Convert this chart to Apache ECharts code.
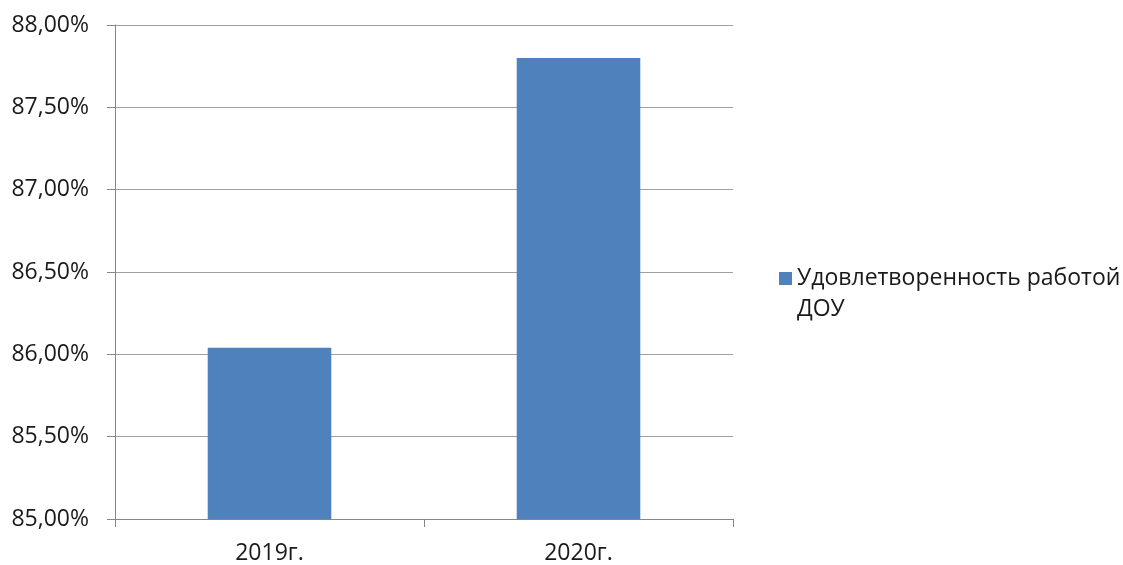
<!DOCTYPE html>
<html>
<head>
<meta charset="utf-8">
<script src="https://cdn.jsdelivr.net/npm/echarts@6/dist/echarts.min.js"></script>
<style>html,body{margin:0;padding:0;background:#fff;}#c{width:1123px;height:565px;}</style>
</head>
<body>
<div id="c"></div>
<script>
const categories = ['2019г.', '2020г.'];
const seriesName = 'Удовлетворенность работой ДОУ';
const values = [86.04, 87.80];
const yMin = 85, yMax = 88, yStep = 0.5;

const chart = echarts.init(document.getElementById('c'));
chart.setOption({
  animation: false,
  textStyle: { fontFamily: 'Open Sans, Noto Sans, sans-serif' },
  grid: { left: 115, right: 390, top: 25, bottom: 46, containLabel: false },
  legend: {
    data: [seriesName],
    left: 774, top: 227,
    icon: 'rect', itemWidth: 13, itemHeight: 13, itemGap: 0,
    formatter: () => '\nУдовлетворенность работой\nДОУ',
    textStyle: { fontSize: 23, color: '#1a1a1a', lineHeight: 31, fontFamily: 'Open Sans' }
  },
  xAxis: {
    type: 'category', data: categories,
    axisLine: { lineStyle: { color: '#868686' } },
    axisTick: { show: true, length: 8, lineStyle: { color: '#868686' } },
    axisLabel: { fontSize: 23, color: '#1a1a1a', margin: 23 }
  },
  yAxis: {
    type: 'value', min: yMin, max: yMax, interval: yStep,
    axisLine: { show: true, lineStyle: { color: '#868686' } },
    axisTick: { show: true, length: 8, lineStyle: { color: '#868686' } },
    splitLine: { lineStyle: { color: '#A0A0A0' } },
    axisLabel: { fontSize: 23, color: '#1a1a1a', margin: 26,
      formatter: v => v.toFixed(2).replace('.', ',') + '%' }
  },
  series: [{
    name: seriesName, type: 'bar', data: values, barWidth: '40%',
    itemStyle: { color: '#4F81BD' }
  }]
});
</script>
</body>
</html>
